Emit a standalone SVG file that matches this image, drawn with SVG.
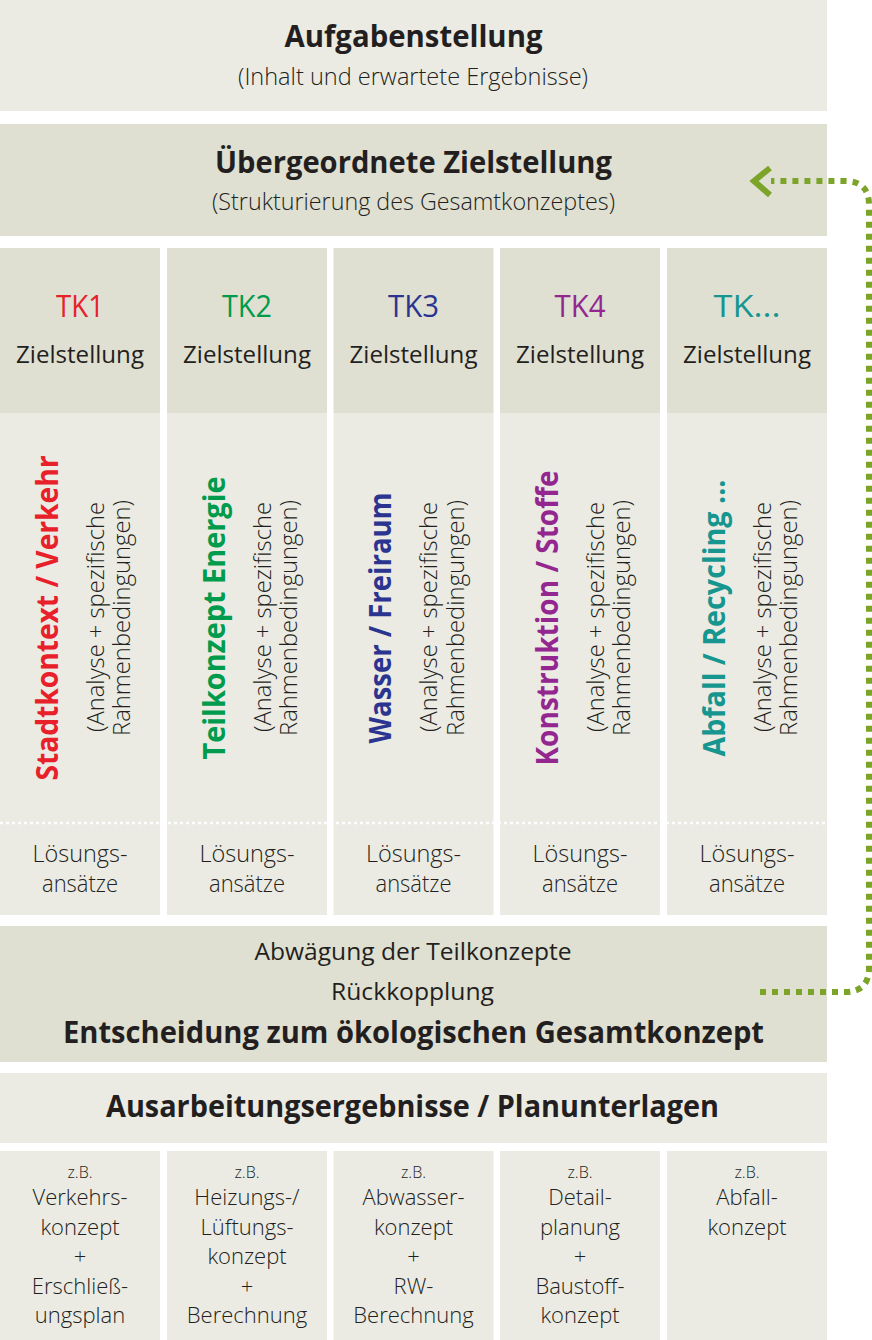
<svg xmlns="http://www.w3.org/2000/svg" width="872" height="1340" viewBox="0 0 872 1340">
<defs>
<style>
.bl{fill:#ebebe4}
.bd{fill:#dfe0d2}
text{font-family:"Open Sans","Noto Sans","DejaVu Sans",sans-serif;fill:#231f20;text-anchor:middle}
.b{font-weight:700;font-size:30px}
.s{font-weight:300;font-size:24px}
.tk{font-weight:400;font-size:31px}
.zs{font-weight:400;font-size:24px}
.rb{font-weight:700;font-size:30px}
.rs{font-weight:300;font-size:23px}
.ls{font-weight:300;font-size:23px}
.m{font-weight:400;font-size:23px}
.zb{font-weight:300;font-size:16px}
.c{font-weight:300;font-size:22px}
.dots{stroke:#ffffff;stroke-width:2.5;stroke-dasharray:3 3;fill:none}
.fb{stroke:#7ba428;stroke-width:6;fill:none;stroke-dasharray:6 6}
.ah{stroke:#7ba428;stroke-width:6;fill:none;stroke-linejoin:miter}
.red{fill:#e8202a}.grn{fill:#009b4c}.blu{fill:#2b3590}.pur{fill:#93268f}.tea{fill:#16968f}
</style>
</defs>

<g id="aufgabenstellung">
<rect class="bl" x="0" y="0" width="827" height="111"/>
<text class="b" x="413.5" y="47" textLength="258" lengthAdjust="spacingAndGlyphs">Aufgabenstellung</text>
<text class="s" x="413" y="85" textLength="350" lengthAdjust="spacingAndGlyphs">(Inhalt und erwartete Ergebnisse)</text>
</g>

<g id="zielstellung">
<rect class="bd" x="0" y="124" width="827" height="112"/>
<text class="b" x="413.5" y="173" textLength="397" lengthAdjust="spacingAndGlyphs">Übergeordnete Zielstellung</text>
<text class="s" x="413.5" y="210" textLength="403" lengthAdjust="spacingAndGlyphs">(Strukturierung des Gesamtkonzeptes)</text>
</g>

<g id="tk1">
<rect class="bd" x="0" y="248" width="160" height="165"/>
<rect class="bl" x="0" y="413" width="160" height="502"/>
<text class="tk red" x="80" y="317" textLength="48" lengthAdjust="spacingAndGlyphs">TK1</text>
<text class="zs" x="80" y="363" textLength="128" lengthAdjust="spacingAndGlyphs">Zielstellung</text>
<text class="rb red" transform="translate(57.5,618) rotate(-90)" textLength="325" lengthAdjust="spacingAndGlyphs">Stadtkontext / Verkehr</text>
<text class="rs" transform="translate(103.5,617) rotate(-90)" textLength="230" lengthAdjust="spacingAndGlyphs">(Analyse + spezifische</text>
<text class="rs" transform="translate(130,618) rotate(-90)" textLength="236" lengthAdjust="spacingAndGlyphs">Rahmenbedingungen)</text>
<text class="ls" x="80" y="862" textLength="95" lengthAdjust="spacingAndGlyphs">Lösungs-</text>
<text class="ls" x="80" y="892" textLength="76" lengthAdjust="spacingAndGlyphs">ansätze</text>
</g>

<g id="tk2">
<rect class="bd" x="167" y="248" width="160" height="165"/>
<rect class="bl" x="167" y="413" width="160" height="502"/>
<text class="tk grn" x="247" y="317" textLength="50" lengthAdjust="spacingAndGlyphs">TK2</text>
<text class="zs" x="247" y="363" textLength="128" lengthAdjust="spacingAndGlyphs">Zielstellung</text>
<text class="rb grn" transform="translate(224.5,618) rotate(-90)" textLength="283" lengthAdjust="spacingAndGlyphs">Teilkonzept Energie</text>
<text class="rs" transform="translate(270.5,617) rotate(-90)" textLength="230" lengthAdjust="spacingAndGlyphs">(Analyse + spezifische</text>
<text class="rs" transform="translate(297,618) rotate(-90)" textLength="236" lengthAdjust="spacingAndGlyphs">Rahmenbedingungen)</text>
<text class="ls" x="247" y="862" textLength="95" lengthAdjust="spacingAndGlyphs">Lösungs-</text>
<text class="ls" x="247" y="892" textLength="76" lengthAdjust="spacingAndGlyphs">ansätze</text>
</g>

<g id="tk3">
<rect class="bd" x="333.5" y="248" width="160" height="165"/>
<rect class="bl" x="333.5" y="413" width="160" height="502"/>
<text class="tk blu" x="413.5" y="317" textLength="51" lengthAdjust="spacingAndGlyphs">TK3</text>
<text class="zs" x="413.5" y="363" textLength="128" lengthAdjust="spacingAndGlyphs">Zielstellung</text>
<text class="rb blu" transform="translate(391,618) rotate(-90)" textLength="251" lengthAdjust="spacingAndGlyphs">Wasser / Freiraum</text>
<text class="rs" transform="translate(437,617) rotate(-90)" textLength="230" lengthAdjust="spacingAndGlyphs">(Analyse + spezifische</text>
<text class="rs" transform="translate(463.5,618) rotate(-90)" textLength="236" lengthAdjust="spacingAndGlyphs">Rahmenbedingungen)</text>
<text class="ls" x="413.5" y="862" textLength="95" lengthAdjust="spacingAndGlyphs">Lösungs-</text>
<text class="ls" x="413.5" y="892" textLength="76" lengthAdjust="spacingAndGlyphs">ansätze</text>
</g>

<g id="tk4">
<rect class="bd" x="500" y="248" width="160" height="165"/>
<rect class="bl" x="500" y="413" width="160" height="502"/>
<text class="tk pur" x="580" y="317" textLength="51" lengthAdjust="spacingAndGlyphs">TK4</text>
<text class="zs" x="580" y="363" textLength="128" lengthAdjust="spacingAndGlyphs">Zielstellung</text>
<text class="rb pur" transform="translate(557.5,618) rotate(-90)" textLength="295" lengthAdjust="spacingAndGlyphs">Konstruktion / Stoffe</text>
<text class="rs" transform="translate(603.5,617) rotate(-90)" textLength="230" lengthAdjust="spacingAndGlyphs">(Analyse + spezifische</text>
<text class="rs" transform="translate(630,618) rotate(-90)" textLength="236" lengthAdjust="spacingAndGlyphs">Rahmenbedingungen)</text>
<text class="ls" x="580" y="862" textLength="95" lengthAdjust="spacingAndGlyphs">Lösungs-</text>
<text class="ls" x="580" y="892" textLength="76" lengthAdjust="spacingAndGlyphs">ansätze</text>
</g>

<g id="tk5">
<rect class="bd" x="667" y="248" width="160" height="165"/>
<rect class="bl" x="667" y="413" width="160" height="502"/>
<text class="tk tea" x="747" y="317" textLength="67" lengthAdjust="spacingAndGlyphs">TK...</text>
<text class="zs" x="747" y="363" textLength="128" lengthAdjust="spacingAndGlyphs">Zielstellung</text>
<text class="rb tea" transform="translate(724.5,618) rotate(-90)" textLength="277" lengthAdjust="spacingAndGlyphs">Abfall / Recycling ...</text>
<text class="rs" transform="translate(770.5,617) rotate(-90)" textLength="230" lengthAdjust="spacingAndGlyphs">(Analyse + spezifische</text>
<text class="rs" transform="translate(797,618) rotate(-90)" textLength="236" lengthAdjust="spacingAndGlyphs">Rahmenbedingungen)</text>
<text class="ls" x="747" y="862" textLength="95" lengthAdjust="spacingAndGlyphs">Lösungs-</text>
<text class="ls" x="747" y="892" textLength="76" lengthAdjust="spacingAndGlyphs">ansätze</text>
</g>

<line class="dots" x1="0" y1="823" x2="827" y2="823"/>

<g id="entscheidung">
<rect class="bd" x="0" y="926" width="827" height="136"/>
<text class="m" x="413" y="960" textLength="317" lengthAdjust="spacingAndGlyphs">Abwägung der Teilkonzepte</text>
<text class="m" x="412.5" y="1000" textLength="163" lengthAdjust="spacingAndGlyphs">Rückkopplung</text>
<text class="b" x="413.5" y="1043" textLength="701" lengthAdjust="spacingAndGlyphs">Entscheidung zum ökologischen Gesamtkonzept</text>
</g>

<g id="ausarbeitung">
<rect class="bl" x="0" y="1073" width="827" height="70"/>
<text class="b" x="412.5" y="1117" textLength="613" lengthAdjust="spacingAndGlyphs">Ausarbeitungsergebnisse / Planunterlagen</text>
</g>

<g id="ergebnis1">
<rect class="bl" x="0" y="1151" width="160" height="189"/>
<text class="zb" x="80" y="1178">z.B.</text>
<text class="c" x="80" y="1205">Verkehrs-</text>
<text class="c" x="80" y="1235">konzept</text>
<text class="c" x="80" y="1264">+</text>
<text class="c" x="80" y="1294">Erschließ-</text>
<text class="c" x="80" y="1323">ungsplan</text>
</g>

<g id="ergebnis2">
<rect class="bl" x="167" y="1151" width="160" height="189"/>
<text class="zb" x="247" y="1178">z.B.</text>
<text class="c" x="247" y="1205">Heizungs-/</text>
<text class="c" x="247" y="1235">Lüftungs-</text>
<text class="c" x="247" y="1264">konzept</text>
<text class="c" x="247" y="1294">+</text>
<text class="c" x="247" y="1323">Berechnung</text>
</g>

<g id="ergebnis3">
<rect class="bl" x="333.5" y="1151" width="160" height="189"/>
<text class="zb" x="413.5" y="1178">z.B.</text>
<text class="c" x="413.5" y="1205">Abwasser-</text>
<text class="c" x="413.5" y="1235">konzept</text>
<text class="c" x="413.5" y="1264">+</text>
<text class="c" x="413.5" y="1294">RW-</text>
<text class="c" x="413.5" y="1323">Berechnung</text>
</g>

<g id="ergebnis4">
<rect class="bl" x="500" y="1151" width="160" height="189"/>
<text class="zb" x="580" y="1178">z.B.</text>
<text class="c" x="580" y="1205">Detail-</text>
<text class="c" x="580" y="1235">planung</text>
<text class="c" x="580" y="1264">+</text>
<text class="c" x="580" y="1294">Baustoff-</text>
<text class="c" x="580" y="1323">konzept</text>
</g>

<g id="ergebnis5">
<rect class="bl" x="667" y="1151" width="160" height="189"/>
<text class="zb" x="747" y="1178">z.B.</text>
<text class="c" x="747" y="1205">Abfall-</text>
<text class="c" x="747" y="1235">konzept</text>
</g>

<g id="connectors">
<path class="fb" d="M 760 992 H 845 Q 869 992 869 968 V 205 Q 869 181 845 181 H 771"/>
<polyline class="ah" points="770,168 754,181 770,195"/>
</g>
</svg>
